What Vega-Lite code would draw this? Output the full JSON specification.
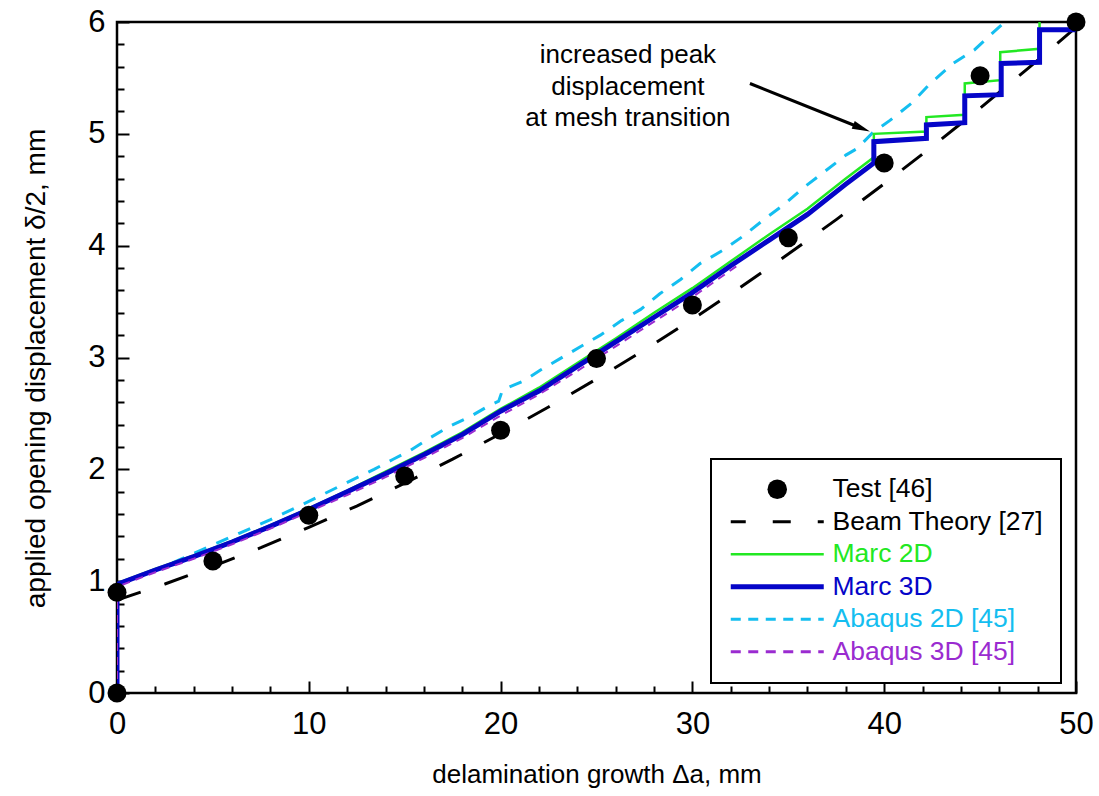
{
  "$schema": "https://vega.github.io/schema/vega-lite/v6.json",
  "width": 959,
  "height": 671,
  "autosize": {"type": "none"},
  "padding": {"left": 117, "top": 22, "right": 23, "bottom": 103},
  "background": "#ffffff",
  "config": {
    "font": "Liberation Sans",
    "view": {"stroke": "#000000", "strokeWidth": 2.5},
    "axis": {"grid": false, "domain": false},
    "legend": {"strokeWidth": 2}
  },
  "datasets": {
    "curves": [
      {"series": "Test [46]", "x": 0, "y": 0},
      {"series": "Test [46]", "x": 0, "y": 0.9},
      {"series": "Test [46]", "x": 5, "y": 1.18},
      {"series": "Test [46]", "x": 10, "y": 1.59},
      {"series": "Test [46]", "x": 15, "y": 1.94},
      {"series": "Test [46]", "x": 20, "y": 2.35},
      {"series": "Test [46]", "x": 25, "y": 2.99},
      {"series": "Test [46]", "x": 30, "y": 3.47},
      {"series": "Test [46]", "x": 35, "y": 4.07},
      {"series": "Test [46]", "x": 40, "y": 4.74},
      {"series": "Test [46]", "x": 45, "y": 5.52},
      {"series": "Test [46]", "x": 50, "y": 6.0},

      {"series": "Beam Theory [27]", "x": 0, "y": 0.83},
      {"series": "Beam Theory [27]", "x": 2.5, "y": 0.975},
      {"series": "Beam Theory [27]", "x": 5, "y": 1.132},
      {"series": "Beam Theory [27]", "x": 7.5, "y": 1.3},
      {"series": "Beam Theory [27]", "x": 10, "y": 1.481},
      {"series": "Beam Theory [27]", "x": 12.5, "y": 1.672},
      {"series": "Beam Theory [27]", "x": 15, "y": 1.876},
      {"series": "Beam Theory [27]", "x": 17.5, "y": 2.091},
      {"series": "Beam Theory [27]", "x": 20, "y": 2.318},
      {"series": "Beam Theory [27]", "x": 22.5, "y": 2.557},
      {"series": "Beam Theory [27]", "x": 25, "y": 2.807},
      {"series": "Beam Theory [27]", "x": 27.5, "y": 3.069},
      {"series": "Beam Theory [27]", "x": 30, "y": 3.342},
      {"series": "Beam Theory [27]", "x": 32.5, "y": 3.628},
      {"series": "Beam Theory [27]", "x": 35, "y": 3.925},
      {"series": "Beam Theory [27]", "x": 37.5, "y": 4.233},
      {"series": "Beam Theory [27]", "x": 40, "y": 4.554},
      {"series": "Beam Theory [27]", "x": 42.5, "y": 4.886},
      {"series": "Beam Theory [27]", "x": 45, "y": 5.229},
      {"series": "Beam Theory [27]", "x": 47.5, "y": 5.585},
      {"series": "Beam Theory [27]", "x": 50, "y": 5.952},

      {"series": "Abaqus 2D [45]", "x": 0, "y": 0},
      {"series": "Abaqus 2D [45]", "x": 0, "y": 0.97},
      {"series": "Abaqus 2D [45]", "x": 2.2, "y": 1.11},
      {"series": "Abaqus 2D [45]", "x": 4.3, "y": 1.27},
      {"series": "Abaqus 2D [45]", "x": 6.4, "y": 1.43},
      {"series": "Abaqus 2D [45]", "x": 8, "y": 1.55},
      {"series": "Abaqus 2D [45]", "x": 9.6, "y": 1.68},
      {"series": "Abaqus 2D [45]", "x": 11.5, "y": 1.84},
      {"series": "Abaqus 2D [45]", "x": 13.4, "y": 2.0},
      {"series": "Abaqus 2D [45]", "x": 14.4, "y": 2.09},
      {"series": "Abaqus 2D [45]", "x": 15.3, "y": 2.17},
      {"series": "Abaqus 2D [45]", "x": 16.3, "y": 2.28},
      {"series": "Abaqus 2D [45]", "x": 17.4, "y": 2.39},
      {"series": "Abaqus 2D [45]", "x": 18.4, "y": 2.47},
      {"series": "Abaqus 2D [45]", "x": 19.4, "y": 2.57},
      {"series": "Abaqus 2D [45]", "x": 19.9, "y": 2.61},
      {"series": "Abaqus 2D [45]", "x": 20.1, "y": 2.71},
      {"series": "Abaqus 2D [45]", "x": 21.2, "y": 2.79},
      {"series": "Abaqus 2D [45]", "x": 22.1, "y": 2.89},
      {"series": "Abaqus 2D [45]", "x": 23.1, "y": 2.99},
      {"series": "Abaqus 2D [45]", "x": 24.2, "y": 3.1},
      {"series": "Abaqus 2D [45]", "x": 25.2, "y": 3.2},
      {"series": "Abaqus 2D [45]", "x": 26.3, "y": 3.33},
      {"series": "Abaqus 2D [45]", "x": 27.3, "y": 3.43},
      {"series": "Abaqus 2D [45]", "x": 28.3, "y": 3.57},
      {"series": "Abaqus 2D [45]", "x": 29.4, "y": 3.7},
      {"series": "Abaqus 2D [45]", "x": 30.4, "y": 3.84},
      {"series": "Abaqus 2D [45]", "x": 31.6, "y": 3.96},
      {"series": "Abaqus 2D [45]", "x": 32.6, "y": 4.08},
      {"series": "Abaqus 2D [45]", "x": 33.7, "y": 4.23},
      {"series": "Abaqus 2D [45]", "x": 34.8, "y": 4.37},
      {"series": "Abaqus 2D [45]", "x": 35.8, "y": 4.52},
      {"series": "Abaqus 2D [45]", "x": 36.8, "y": 4.65},
      {"series": "Abaqus 2D [45]", "x": 38.0, "y": 4.81},
      {"series": "Abaqus 2D [45]", "x": 38.6, "y": 4.87},
      {"series": "Abaqus 2D [45]", "x": 39.4, "y": 5.01},
      {"series": "Abaqus 2D [45]", "x": 40.3, "y": 5.12},
      {"series": "Abaqus 2D [45]", "x": 41.4, "y": 5.27},
      {"series": "Abaqus 2D [45]", "x": 42.4, "y": 5.45},
      {"series": "Abaqus 2D [45]", "x": 43.6, "y": 5.63},
      {"series": "Abaqus 2D [45]", "x": 44.7, "y": 5.75},
      {"series": "Abaqus 2D [45]", "x": 45.7, "y": 5.91},
      {"series": "Abaqus 2D [45]", "x": 46.3, "y": 6.0},

      {"series": "Marc 2D", "x": 0, "y": 0},
      {"series": "Marc 2D", "x": 0, "y": 0.98},
      {"series": "Marc 2D", "x": 2, "y": 1.11},
      {"series": "Marc 2D", "x": 4, "y": 1.23},
      {"series": "Marc 2D", "x": 6, "y": 1.36},
      {"series": "Marc 2D", "x": 8, "y": 1.5},
      {"series": "Marc 2D", "x": 10, "y": 1.65},
      {"series": "Marc 2D", "x": 12, "y": 1.81},
      {"series": "Marc 2D", "x": 14, "y": 1.98},
      {"series": "Marc 2D", "x": 16, "y": 2.15},
      {"series": "Marc 2D", "x": 18, "y": 2.33},
      {"series": "Marc 2D", "x": 20, "y": 2.54},
      {"series": "Marc 2D", "x": 22, "y": 2.73},
      {"series": "Marc 2D", "x": 24, "y": 2.95},
      {"series": "Marc 2D", "x": 26, "y": 3.17},
      {"series": "Marc 2D", "x": 28, "y": 3.4},
      {"series": "Marc 2D", "x": 30, "y": 3.62},
      {"series": "Marc 2D", "x": 32, "y": 3.86},
      {"series": "Marc 2D", "x": 34, "y": 4.1},
      {"series": "Marc 2D", "x": 36, "y": 4.33},
      {"series": "Marc 2D", "x": 38, "y": 4.6},
      {"series": "Marc 2D", "x": 39.46, "y": 4.79},
      {"series": "Marc 2D", "x": 39.46, "y": 5.0},
      {"series": "Marc 2D", "x": 42.2, "y": 5.02},
      {"series": "Marc 2D", "x": 42.2, "y": 5.15},
      {"series": "Marc 2D", "x": 44.2, "y": 5.17},
      {"series": "Marc 2D", "x": 44.2, "y": 5.45},
      {"series": "Marc 2D", "x": 46.05, "y": 5.48},
      {"series": "Marc 2D", "x": 46.05, "y": 5.73},
      {"series": "Marc 2D", "x": 48.1, "y": 5.76},
      {"series": "Marc 2D", "x": 48.1, "y": 6.0},

      {"series": "Marc 3D", "x": 0, "y": 0},
      {"series": "Marc 3D", "x": 0, "y": 0.97},
      {"series": "Marc 3D", "x": 2, "y": 1.1},
      {"series": "Marc 3D", "x": 4, "y": 1.22},
      {"series": "Marc 3D", "x": 6, "y": 1.35},
      {"series": "Marc 3D", "x": 8, "y": 1.49},
      {"series": "Marc 3D", "x": 10, "y": 1.64},
      {"series": "Marc 3D", "x": 12, "y": 1.8},
      {"series": "Marc 3D", "x": 14, "y": 1.96},
      {"series": "Marc 3D", "x": 16, "y": 2.13},
      {"series": "Marc 3D", "x": 18, "y": 2.31},
      {"series": "Marc 3D", "x": 20, "y": 2.52},
      {"series": "Marc 3D", "x": 22, "y": 2.7},
      {"series": "Marc 3D", "x": 24, "y": 2.92},
      {"series": "Marc 3D", "x": 26, "y": 3.14},
      {"series": "Marc 3D", "x": 28, "y": 3.36},
      {"series": "Marc 3D", "x": 30, "y": 3.58},
      {"series": "Marc 3D", "x": 32, "y": 3.82},
      {"series": "Marc 3D", "x": 34, "y": 4.05},
      {"series": "Marc 3D", "x": 36, "y": 4.28},
      {"series": "Marc 3D", "x": 38, "y": 4.55},
      {"series": "Marc 3D", "x": 39.46, "y": 4.74},
      {"series": "Marc 3D", "x": 39.46, "y": 4.93},
      {"series": "Marc 3D", "x": 42.2, "y": 4.96},
      {"series": "Marc 3D", "x": 42.2, "y": 5.08},
      {"series": "Marc 3D", "x": 44.2, "y": 5.1},
      {"series": "Marc 3D", "x": 44.2, "y": 5.34},
      {"series": "Marc 3D", "x": 46.1, "y": 5.35},
      {"series": "Marc 3D", "x": 46.1, "y": 5.63},
      {"series": "Marc 3D", "x": 48.1, "y": 5.64},
      {"series": "Marc 3D", "x": 48.1, "y": 5.93},
      {"series": "Marc 3D", "x": 50, "y": 5.93},

      {"series": "Abaqus 3D [45]", "x": 0, "y": 0},
      {"series": "Abaqus 3D [45]", "x": 0, "y": 0.95},
      {"series": "Abaqus 3D [45]", "x": 2, "y": 1.08},
      {"series": "Abaqus 3D [45]", "x": 4, "y": 1.2},
      {"series": "Abaqus 3D [45]", "x": 6, "y": 1.33},
      {"series": "Abaqus 3D [45]", "x": 8, "y": 1.47},
      {"series": "Abaqus 3D [45]", "x": 10, "y": 1.62},
      {"series": "Abaqus 3D [45]", "x": 12, "y": 1.77},
      {"series": "Abaqus 3D [45]", "x": 14, "y": 1.93},
      {"series": "Abaqus 3D [45]", "x": 16, "y": 2.1},
      {"series": "Abaqus 3D [45]", "x": 18, "y": 2.28},
      {"series": "Abaqus 3D [45]", "x": 20, "y": 2.48},
      {"series": "Abaqus 3D [45]", "x": 22, "y": 2.67},
      {"series": "Abaqus 3D [45]", "x": 24, "y": 2.88},
      {"series": "Abaqus 3D [45]", "x": 26, "y": 3.1},
      {"series": "Abaqus 3D [45]", "x": 28, "y": 3.32},
      {"series": "Abaqus 3D [45]", "x": 30, "y": 3.54},
      {"series": "Abaqus 3D [45]", "x": 32, "y": 3.78},
      {"series": "Abaqus 3D [45]", "x": 32.5, "y": 3.84}
    ],
    "note": [
      {"label": "increased peak\ndisplacement\nat mesh transition", "x": 26.64, "y": 5.706}
    ],
    "arrow": [
      {"x": 33.0, "y": 5.45, "x2": 38.82, "y2": 5.05}
    ]
  },
  "resolve": {"axis": {"x": "independent", "y": "independent"}},
  "layer": [
    {
      "data": {"name": "curves"},
      "transform": [{"filter": "datum.series === 'Beam Theory [27]'"}],
      "mark": {"type": "line", "strokeWidth": 3, "strokeDash": [25, 25], "clip": true},
      "encoding": {
        "x": {"field": "x", "type": "quantitative", "scale": {"domain": [0, 50], "nice": false, "zero": false},
          "axis": {"orient": "bottom", "values": [0, 10, 20, 30, 40, 50], "ticks": false, "domain": false, "grid": false,
            "labelFont": "Liberation Sans", "labelFontSize": 31, "labelColor": "#000000", "labelPadding": 16, "labelFlush": false, "labelOverlap": false,
            "title": "delamination growth Δa, mm", "titleFont": "Liberation Sans", "titleFontSize": 26, "titleFontWeight": "normal", "titleColor": "#000000", "titlePadding": 22}},
        "y": {"field": "y", "type": "quantitative", "scale": {"domain": [0, 6], "nice": false, "zero": false},
          "axis": {"orient": "left", "values": [0, 1, 2, 3, 4, 5, 6], "ticks": false, "domain": false, "grid": false,
            "labelFont": "Liberation Sans", "labelFontSize": 31, "labelColor": "#000000", "labelPadding": 12, "labelFlush": false, "labelOverlap": false,
            "title": "applied opening displacement δ/2, mm", "titleFont": "Liberation Sans", "titleFontSize": 28, "titleFontWeight": "normal", "titleColor": "#000000", "titlePadding": 37, "titleY": 346}},
        "color": {"field": "series", "type": "nominal",
          "scale": {"domain": ["Test [46]", "Beam Theory [27]", "Marc 2D", "Marc 3D", "Abaqus 2D [45]", "Abaqus 3D [45]"],
            "range": ["#000000", "#000000", "#22E822", "#0505C8", "#14BEF0", "#9A2BD0"]},
          "legend": {
            "title": null, "orient": "none", "legendX": 594, "legendY": 437, "direction": "vertical",
            "strokeColor": "#000000", "fillColor": "#ffffff", "padding": 17, "rowPadding": 5.5,
            "labelFont": "Liberation Sans", "labelFontSize": 26.5, "labelBaseline": "middle", "labelLimit": 400,
            "symbolOffset": 36, "labelOffset": 42, "symbolSize": 100,
            "encode": {
              "symbols": {
                "update": {
                  "shape": {"signal": "datum.value === 'Test [46]' ? 'circle' : 'M-9.3,0L9.3,0'"},
                  "size": {"signal": "datum.value === 'Test [46]' ? 380 : 100"},
                  "fill": {"signal": "datum.value === 'Test [46]' ? '#000000' : 'transparent'"},
                  "fillOpacity": {"value": 1},
                  "stroke": {"signal": "datum.value === 'Test [46]' ? 'transparent' : scale('color', datum.value)"},
                  "strokeWidth": {"signal": "datum.value === 'Test [46]' ? 0 : datum.value === 'Marc 3D' ? 5 : datum.value === 'Marc 2D' ? 2.5 : 3"},
                  "strokeDash": {"signal": "datum.value === 'Beam Theory [27]' ? [18, 27] : (datum.value === 'Abaqus 2D [45]' || datum.value === 'Abaqus 3D [45]') ? [10, 7.5] : []"},
                  "strokeDashOffset": {"signal": "datum.value === 'Beam Theory [27]' ? 3 : 0"},
                  "opacity": {"value": 1}
                }
              },
              "labels": {
                "update": {
                  "fill": {"signal": "scale('color', datum.value)"}
                }
              }
            }
          }},
        "order": {"value": null}
      }
    },
    {
      "data": {"name": "curves"},
      "transform": [{"filter": "datum.series === 'Abaqus 2D [45]'"}],
      "mark": {"type": "line", "strokeWidth": 3, "strokeDash": [13, 11], "clip": true},
      "encoding": {
        "x": {"field": "x", "type": "quantitative", "scale": {"domain": [0, 50], "nice": false, "zero": false},
          "axis": {"orient": "bottom", "values": [0, 10, 20, 30, 40, 50], "labels": false, "domain": false, "grid": false, "ticks": true, "tickSize": -12, "tickWidth": 2, "tickColor": "#000000", "title": null}},
        "y": {"field": "y", "type": "quantitative", "scale": {"domain": [0, 6], "nice": false, "zero": false},
          "axis": {"orient": "left", "values": [0, 1, 2, 3, 4, 5, 6], "labels": false, "domain": false, "grid": false, "ticks": true, "tickSize": -12, "tickWidth": 2, "tickColor": "#000000", "title": null}},
        "color": {"field": "series", "type": "nominal"},
        "order": {"value": null}
      }
    },
    {
      "data": {"name": "curves"},
      "transform": [{"filter": "datum.series === 'Marc 2D'"}],
      "mark": {"type": "line", "strokeWidth": 2.5, "clip": true},
      "encoding": {
        "x": {"field": "x", "type": "quantitative", "scale": {"domain": [0, 50], "nice": false, "zero": false},
          "axis": {"orient": "bottom", "values": [2, 4, 6, 8, 12, 14, 16, 18, 22, 24, 26, 28, 32, 34, 36, 38, 42, 44, 46, 48], "labels": false, "domain": false, "grid": false, "ticks": true, "tickSize": -7, "tickWidth": 2, "tickColor": "#000000", "title": null}},
        "y": {"field": "y", "type": "quantitative", "scale": {"domain": [0, 6], "nice": false, "zero": false},
          "axis": {"orient": "left", "values": [0.2, 0.4, 0.6, 0.8, 1.2, 1.4, 1.6, 1.8, 2.2, 2.4, 2.6, 2.8, 3.2, 3.4, 3.6, 3.8, 4.2, 4.4, 4.6, 4.8, 5.2, 5.4, 5.6, 5.8], "labels": false, "domain": false, "grid": false, "ticks": true, "tickSize": -7, "tickWidth": 2, "tickColor": "#000000", "title": null}},
        "color": {"field": "series", "type": "nominal"},
        "order": {"value": null}
      }
    },
    {
      "data": {"name": "curves"},
      "transform": [{"filter": "datum.series === 'Marc 3D'"}],
      "mark": {"type": "line", "strokeWidth": 5, "clip": true},
      "encoding": {
        "x": {"field": "x", "type": "quantitative", "axis": null},
        "y": {"field": "y", "type": "quantitative", "axis": null},
        "color": {"field": "series", "type": "nominal"},
        "order": {"value": null}
      }
    },
    {
      "data": {"name": "curves"},
      "transform": [{"filter": "datum.series === 'Abaqus 3D [45]'"}],
      "mark": {"type": "line", "strokeWidth": 2, "strokeDash": [8, 6], "clip": true},
      "encoding": {
        "x": {"field": "x", "type": "quantitative", "axis": null},
        "y": {"field": "y", "type": "quantitative", "axis": null},
        "color": {"field": "series", "type": "nominal"},
        "order": {"value": null}
      }
    },
    {
      "data": {"name": "curves"},
      "transform": [{"filter": "datum.series === 'Test [46]'"}],
      "mark": {"type": "circle", "size": 361, "color": "#000000", "opacity": 1},
      "encoding": {
        "x": {"field": "x", "type": "quantitative", "axis": null},
        "y": {"field": "y", "type": "quantitative", "axis": null}
      }
    },
    {
      "data": {"name": "note"},
      "mark": {"type": "text", "font": "Liberation Sans", "fontSize": 26, "align": "center", "baseline": "middle", "lineBreak": "\n", "lineHeight": 31.7, "color": "#000000"},
      "encoding": {
        "x": {"field": "x", "type": "quantitative", "axis": null},
        "y": {"field": "y", "type": "quantitative", "axis": null},
        "text": {"field": "label"}
      }
    },
    {
      "data": {"name": "arrow"},
      "mark": {"type": "rule", "strokeWidth": 3, "color": "#000000"},
      "encoding": {
        "x": {"field": "x", "type": "quantitative", "axis": null},
        "y": {"field": "y", "type": "quantitative", "axis": null},
        "x2": {"field": "x2"},
        "y2": {"field": "y2"}
      }
    },
    {
      "data": {"name": "arrow"},
      "mark": {"type": "point", "shape": "M0,-1L0.45,1L-0.45,1Z", "size": 324, "angle": 112, "filled": true, "color": "#000000", "opacity": 1},
      "encoding": {
        "x": {"field": "x2", "type": "quantitative", "axis": null},
        "y": {"field": "y2", "type": "quantitative", "axis": null}
      }
    }
  ]
}
